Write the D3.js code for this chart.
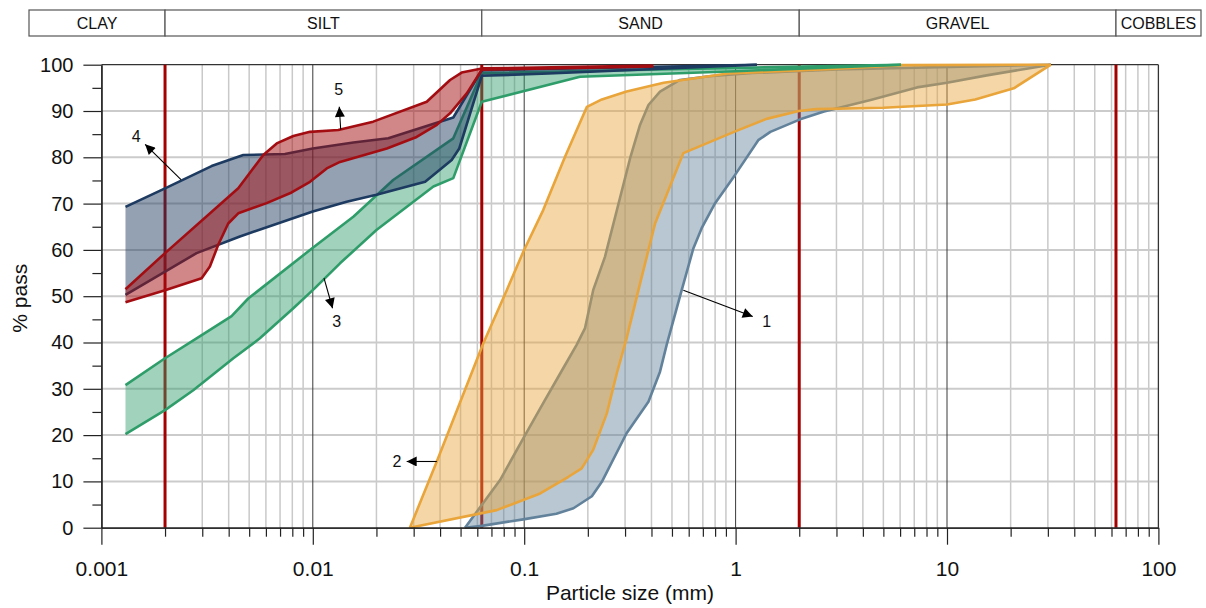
<!DOCTYPE html>
<html>
<head>
<meta charset="utf-8">
<script src="https://cdn.jsdelivr.net/npm/d3@7"></script>
<style>
  html, body { margin: 0; padding: 0; background: #fff; }
  svg { display: block; font-family: "Liberation Sans", Arial, sans-serif; }
</style>
</head>
<body>
<svg id="chart" width="1206" height="608"></svg>
<script>
// ---------- DATA ----------
const xMajorTicks = [0.001, 0.01, 0.1, 1, 10, 100];
const xTickLabels = ["0.001", "0.01", "0.1", "1", "10", "100"];
const yTicks = [0, 10, 20, 30, 40, 50, 60, 70, 80, 90, 100];
const yMinorTicks = [5, 15, 25, 35, 45, 55, 65, 75, 85, 95];

const soilClasses = ["CLAY", "SILT", "SAND", "GRAVEL", "COBBLES"];
const classBoundaries = [0.002, 0.063, 2, 63];

// band 1 (blue-grey)
const band1Upper = [[0.0525,0],[0.0769,10.3],[0.099,19.3],[0.123,26.9],[0.148,33.3],[0.177,39.5],[0.194,43.1],[0.212,51.3],[0.241,58.5],[0.317,79.8],[0.353,87.0],[0.387,91.3],[0.439,94.2],[0.545,96.7],[0.75,97.5],[1.2,98.2],[3,99],[31,100]];
const band1Lower = [[0.0525,0],[0.063,0.4],[0.099,1.8],[0.142,3.0],[0.171,4.2],[0.209,6.8],[0.233,9.9],[0.305,20.4],[0.387,27.2],[0.439,33.7],[0.472,39.5],[0.556,51.3],[0.631,60.3],[0.691,64.7],[0.8,70.1],[0.994,76.2],[1.28,83.7],[1.46,85.5],[2.02,88.2],[2.62,89.9],[4.35,92.4],[7.21,95.1],[10,96.1],[15.4,97.7],[31,100]];
// band 2 (orange)
const band2Upper = [[0.0288,0],[0.0386,14.3],[0.064,39.8],[0.0827,51.3],[0.099,59.6],[0.123,68.6],[0.156,80.1],[0.198,90.9],[0.233,92.5],[0.305,94.2],[0.457,96.1],[0.917,98.1],[2.86,99.1],[6.1,99.9],[31,100]];
const band2Lower = [[0.0288,0],[0.0741,3.8],[0.119,7.4],[0.162,11.0],[0.187,12.8],[0.212,16.8],[0.246,24.7],[0.274,33.3],[0.305,40.9],[0.347,51.3],[0.416,65.7],[0.566,80.9],[0.996,85.6],[1.40,88.3],[1.99,90.0],[2.41,90.4],[5,90.7],[10,91.4],[13.6,92.5],[20.7,94.9],[31,100]];
// band 3 (green)
const band3Upper = [[0.0013,30.8],[0.002,36.6],[0.00282,40.9],[0.00413,45.7],[0.00495,49.5],[0.0099,60.3],[0.0156,67.2],[0.024,75.1],[0.0462,84.1],[0.063,98.2],[1.0,99.3],[6.06,100]];
const band3Lower = [[0.0013,20.2],[0.002,25.4],[0.00272,29.7],[0.00421,36.6],[0.00562,40.9],[0.00809,47.4],[0.0102,51.7],[0.01345,57.1],[0.02,64.3],[0.0372,73.7],[0.0462,75.5],[0.063,92.0],[0.1836,97.4],[1.0,98.6],[6.06,100]];
// band 4 (navy)
const band4Upper = [[0.0013,69.3],[0.002,73.3],[0.00332,78.1],[0.00469,80.5],[0.00738,80.7],[0.01,81.9],[0.01556,83.2],[0.02276,84.1],[0.0462,88.6],[0.063,98.8],[1.26,100]];
const band4Lower = [[0.0013,50.3],[0.00282,59.3],[0.00452,62.9],[0.01,68.3],[0.01446,70.4],[0.02,71.9],[0.034,74.7],[0.0454,79.4],[0.0493,81.9],[0.063,97.6],[0.13,98.1],[1.26,100]];
// band 5 (red)
const band5Upper = [[0.0013,51.5],[0.002,59.3],[0.00444,73.3],[0.00583,80.5],[0.00675,83.0],[0.00809,84.6],[0.0097,85.5],[0.0132,85.9],[0.0193,87.7],[0.0346,92.0],[0.0446,96.7],[0.0506,98.3],[0.063,99.2],[0.408,99.8]];
const band5Lower = [[0.0013,48.7],[0.002,51.3],[0.00298,53.9],[0.00326,56.4],[0.00357,61.1],[0.00398,65.7],[0.00444,67.9],[0.00605,70.1],[0.00794,72.4],[0.0097,74.7],[0.01164,77.6],[0.01345,79.0],[0.0224,81.9],[0.031,84.4],[0.0386,87.0],[0.0446,89.5],[0.0535,93.8],[0.063,98.9],[0.408,99.6]];

const bandNames = ["1", "2", "3", "4", "5"];
// annotation: [from, arrow tip, label position] in data units (mm, %)
const annotations = [
  {name: "1", from: [0.566, 51.3], tip: [1.205, 45.6], label: [1.404, 44.5]},
  {name: "2", from: [0.0386, 14.3], tip: [0.0278, 14.3], label: [0.025, 14.3]},
  {name: "3", from: [0.0113, 53.9], tip: [0.0124, 47.4], label: [0.01298, 44.5]},
  {name: "4", from: [0.00238, 75.2], tip: [0.00161, 82.8], label: [0.00146, 84.6]},
  {name: "5", from: [0.01355, 86.0], tip: [0.01334, 90.9], label: [0.01326, 94.7]}
];

// ---------- STYLE ----------
const bandStyles = [
  {stroke: "#62829b", fill: "#62829b", op: 0.45},
  {stroke: "#e9a43a", fill: "#e9a43a", op: 0.45},
  {stroke: "#2f9d6a", fill: "#2f9d6a", op: 0.45},
  {stroke: "#1d3a60", fill: "#1d3a60", op: 0.48},
  {stroke: "#a30d12", fill: "#a30d12", op: 0.5}
];

const W = 1206, H = 608;
const margin = {left: 101.4, right: 47.6, top: 64.7, bottom: 80.3};
const svg = d3.select("#chart");

const x = d3.scaleLog().domain([0.001, 100]).range([margin.left, W - margin.right]);
const y = d3.scaleLinear().domain([0, 100]).range([H - margin.bottom, margin.top]);

// minor x values
const xMinor = [];
for (let k = -3; k <= 1; k++) for (let m = 2; m <= 9; m++) xMinor.push(m * Math.pow(10, k));

// ---------- GRID ----------
const grid = svg.append("g");
grid.selectAll("line.vminor").data(xMinor).join("line")
  .attr("x1", d => x(d)).attr("x2", d => x(d))
  .attr("y1", y(0)).attr("y2", y(100))
  .attr("stroke", "#c9c9c9").attr("stroke-width", 1.5);
grid.selectAll("line.h").data(yTicks.slice(1, -1)).join("line")
  .attr("x1", x(0.001)).attr("x2", x(100))
  .attr("y1", d => y(d)).attr("y2", d => y(d))
  .attr("stroke", "#cbcbcb").attr("stroke-width", 2);
grid.selectAll("line.vmajor").data(xMajorTicks.slice(1, -1)).join("line")
  .attr("x1", d => x(d)).attr("x2", d => x(d))
  .attr("y1", y(0)).attr("y2", y(100))
  .attr("stroke", "#3a3a3a").attr("stroke-width", 1);

// frame top/right
svg.append("line").attr("x1", x(0.001)).attr("x2", x(100)).attr("y1", y(100)).attr("y2", y(100))
  .attr("stroke", "#333").attr("stroke-width", 1.3);
svg.append("line").attr("x1", x(100)).attr("x2", x(100)).attr("y1", y(0)).attr("y2", y(100))
  .attr("stroke", "#333").attr("stroke-width", 1.3);

// class boundary lines
svg.append("g").selectAll("line").data(classBoundaries).join("line")
  .attr("x1", d => x(d)).attr("x2", d => x(d))
  .attr("y1", y(0)).attr("y2", y(100))
  .attr("stroke", "#a40000").attr("stroke-width", 3);

// ---------- BANDS ----------
const bands = [
  [band1Upper, band1Lower], [band2Upper, band2Lower], [band3Upper, band3Lower],
  [band4Upper, band4Lower], [band5Upper, band5Lower]
];
const line = d3.line().x(d => x(d[0])).y(d => y(d[1]));
const bandG = svg.append("g");
bands.forEach(([up, lo], i) => {
  const st = bandStyles[i];
  const poly = up.concat(lo.slice().reverse());
  bandG.append("path").attr("d", line(poly) + "Z")
    .attr("fill", st.fill).attr("fill-opacity", st.op).attr("stroke", "none");
  [up, lo].forEach(c => {
    bandG.append("path").attr("d", line(c))
      .attr("fill", "none").attr("stroke", st.stroke).attr("stroke-width", 2.6)
      .attr("stroke-linejoin", "round");
  });
});

// ---------- AXES ----------
const axX = svg.append("g").attr("transform", `translate(0,${y(0)})`);
axX.call(d3.axisBottom(x).tickValues(xMinor).tickSize(9).tickSizeOuter(0).tickFormat(""));
const axX2 = svg.append("g").attr("transform", `translate(0,${y(0)})`);
axX2.call(d3.axisBottom(x).tickValues(xMajorTicks).tickSize(17).tickSizeOuter(0).tickPadding(16)
  .tickFormat((d, i) => xTickLabels[i]));
[axX, axX2].forEach(a => {
  a.selectAll("line").attr("stroke", "#222").attr("stroke-width", 1.2);
  a.select(".domain").attr("stroke", "#222").attr("stroke-width", 1.3);
});
axX2.selectAll("text").attr("font-size", 21).attr("fill", "#111")
  .attr("font-family", "'Liberation Sans', Arial, sans-serif");

const axY = svg.append("g").attr("transform", `translate(${x(0.001)},0)`);
axY.call(d3.axisLeft(y).tickValues(yMinorTicks).tickSize(9).tickSizeOuter(0).tickFormat(""));
const axY2 = svg.append("g").attr("transform", `translate(${x(0.001)},0)`);
axY2.call(d3.axisLeft(y).tickValues(yTicks).tickSize(18).tickSizeOuter(0).tickPadding(10));
[axY, axY2].forEach(a => {
  a.selectAll("line").attr("stroke", "#222").attr("stroke-width", 1.2);
  a.select(".domain").attr("stroke", "#222").attr("stroke-width", 1.3);
});
axY2.selectAll("text").attr("font-size", 20).attr("fill", "#111")
  .attr("font-family", "'Liberation Sans', Arial, sans-serif");

// axis titles
svg.append("text").attr("x", (x(0.001) + x(100)) / 2).attr("y", 600)
  .attr("text-anchor", "middle").attr("font-size", 21).attr("fill", "#111")
  .text("Particle size (mm)");
svg.append("text").attr("transform", `translate(27,${(y(0) + y(100)) / 2 + 2}) rotate(-90)`)
  .attr("text-anchor", "middle").attr("font-size", 21).attr("fill", "#111")
  .text("% pass");

// ---------- SOIL CLASS STRIP ----------
const stripLeft = 29, stripRight = 1201, stripTop = 10, stripBottom = 36;
const edges = [stripLeft].concat(classBoundaries.map(d => x(d))).concat([stripRight]);
const strip = svg.append("g");
soilClasses.forEach((name, i) => {
  strip.append("rect").attr("x", edges[i]).attr("y", stripTop)
    .attr("width", edges[i + 1] - edges[i]).attr("height", stripBottom - stripTop)
    .attr("fill", "#fff").attr("stroke", "#555").attr("stroke-width", 1.2);
  strip.append("text").attr("x", (edges[i] + edges[i + 1]) / 2).attr("y", stripTop + 19)
    .attr("text-anchor", "middle").attr("font-size", 16).attr("fill", "#111").text(name);
});

// ---------- ANNOTATIONS ----------
svg.append("defs").append("marker").attr("id", "arr")
  .attr("viewBox", "0 0 10 10").attr("refX", 10).attr("refY", 5)
  .attr("markerWidth", 13).attr("markerHeight", 10).attr("markerUnits", "userSpaceOnUse")
  .attr("orient", "auto")
  .append("path").attr("d", "M0,0 L10,5 L0,10 Z").attr("fill", "#000");
const ann = svg.append("g");
annotations.forEach(a => {
  ann.append("line").attr("x1", x(a.from[0])).attr("y1", y(a.from[1]))
    .attr("x2", x(a.tip[0])).attr("y2", y(a.tip[1]))
    .attr("stroke", "#000").attr("stroke-width", 1.1).attr("marker-end", "url(#arr)");
  ann.append("text").attr("x", x(a.label[0])).attr("y", y(a.label[1]))
    .attr("dy", "0.35em").attr("text-anchor", "middle").attr("font-size", 16).attr("fill", "#111")
    .text(a.name);
});
</script>
</body>
</html>
